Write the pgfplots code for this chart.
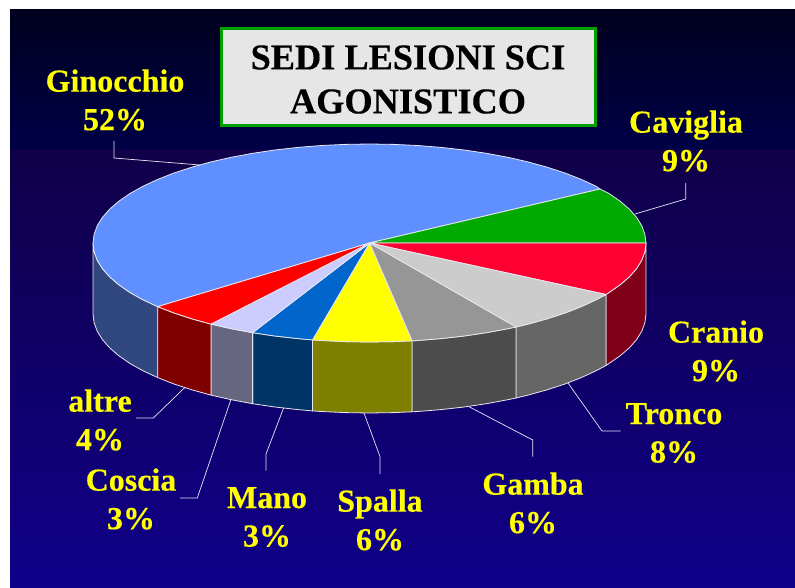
\documentclass[border=0pt]{standalone}
\usepackage{pgfplots}
\pgfplotsset{compat=1.18}
\usepackage{fontspec}
\setmainfont{Liberation Serif}
\newfontface\heavy[FakeBold=0.35]{Liberation Serif Bold}
\definecolor{cGin}{HTML}{6090FF}
\definecolor{cCav}{HTML}{00AA00}
\definecolor{cCra}{HTML}{FF0033}
\definecolor{cTro}{HTML}{CCCCCC}
\definecolor{cGam}{HTML}{969696}
\definecolor{cSpa}{HTML}{FFFF00}
\definecolor{cMan}{HTML}{0066CC}
\definecolor{cCos}{HTML}{CCCCFF}
\definecolor{cAlt}{HTML}{FF0000}
\definecolor{wGin}{HTML}{30487F}
\definecolor{wCra}{HTML}{80001A}
\definecolor{wTro}{HTML}{666666}
\definecolor{wGam}{HTML}{4C4C4C}
\definecolor{wSpa}{HTML}{808000}
\definecolor{wMan}{HTML}{003366}
\definecolor{wCos}{HTML}{666680}
\definecolor{wAlt}{HTML}{800000}
\definecolor{edge}{HTML}{E8E8F0}
\definecolor{lab}{HTML}{FFFF00}
\definecolor{bgA}{RGB}{0,0,30}
\definecolor{bgB}{RGB}{0,0,72}
\definecolor{bgC}{RGB}{16,0,72}
\definecolor{bgD}{RGB}{16,0,138}
\definecolor{boxg}{RGB}{0,160,0}
\definecolor{boxf}{RGB}{230,230,230}
\tikzset{
  slice/.style={draw=edge, line width=0.8pt, line join=round, fill=#1},
  leader/.style={draw=edge, line width=0.7pt},
  lbl/.style={text=lab, align=center, inner sep=0pt,
     font=\fontsize{32}{38.5}\selectfont\heavy},
}
\begin{document}
\begin{tikzpicture}
\begin{axis}[
  scale only axis, width=795pt, height=588pt,
  xmin=0, xmax=795, ymin=0, ymax=588, y dir=reverse,
  axis lines=none, clip=false, no markers,
  every axis plot/.append style={forget plot},
]
% page and backdrop
\fill[white] (axis cs:0,0) rectangle (axis cs:795,588);
\path[top color=bgA, bottom color=bgB] (axis cs:10,10) rectangle (axis cs:795,150);
\path[top color=bgC, bottom color=bgD] (axis cs:10,150) rectangle (axis cs:795,588);

% walls
\addplot[slice=wGin] coordinates {(157.7,306.6)(143,299.8)(130,292.5)(118.9,284.8)(109.7,276.9)(102.4,268.6)(97.2,260.2)(94.1,251.6)(93,243)(93,314)(94.1,322.6)(97.2,331.2)(102.4,339.6)(109.7,347.9)(118.9,355.8)(130,363.5)(143,370.8)(157.7,377.6)} -- cycle;
\addplot[slice=wCra] coordinates {(646,243)(644.9,251.6)(641.8,260.2)(636.6,268.6)(629.3,276.9)(620.1,284.8)(609,292.5)(606,294.5)(606,365.5)(609,363.5)(620.1,355.8)(629.3,347.9)(636.6,339.6)(641.8,331.2)(644.9,322.6)(646,314)} -- cycle;
\addplot[slice=wTro] coordinates {(606,294.5)(596,299.8)(581.3,306.6)(565,313)(547.2,318.8)(528.1,324.1)(516,327)(516,398)(528.1,395.1)(547.2,389.8)(565,384)(581.3,377.6)(596,370.8)(606,365.5)} -- cycle;
\addplot[slice=wGam] coordinates {(516,327)(507.8,328.7)(486.4,332.7)(464.1,336)(441.1,338.6)(417.5,340.5)(412,340.8)(412,411.8)(417.5,411.5)(441.1,409.6)(464.1,407)(486.4,403.7)(507.8,399.7)(516,398)} -- cycle;
\addplot[slice=wSpa] coordinates {(412,340.8)(393.6,341.6)(369.5,342)(345.4,341.6)(321.5,340.5)(312.5,339.9)(312.5,410.9)(321.5,411.5)(345.4,412.6)(369.5,413)(393.6,412.6)(412,411.8)} -- cycle;
\addplot[slice=wMan] coordinates {(312.5,339.9)(297.9,338.6)(274.9,336)(252.6,332.7)(252.6,403.7)(274.9,407)(297.9,409.6)(312.5,410.9)} -- cycle;
\addplot[slice=wCos] coordinates {(252.6,332.7)(231.2,328.7)(210.9,324.1)(210.9,395.1)(231.2,399.7)(252.6,403.7)} -- cycle;
\addplot[slice=wAlt] coordinates {(210.9,324.1)(191.8,318.8)(174,313)(157.7,306.6)(157.7,377.6)(174,384)(191.8,389.8)(210.9,395.1)} -- cycle;

% top faces
\addplot[slice=cGin] coordinates {(369.5,243)(157.7,306.6)(143,299.8)(130,292.5)(118.9,284.8)(109.7,276.9)(102.4,268.6)(97.2,260.2)(94.1,251.6)(93,243)(94.1,234.4)(97.2,225.8)(102.4,217.4)(109.7,209.1)(118.9,201.2)(130,193.5)(143,186.2)(157.7,179.4)(174,173)(191.8,167.2)(210.9,161.9)(231.2,157.3)(252.6,153.3)(274.9,150)(297.9,147.4)(321.5,145.5)(345.4,144.4)(369.5,144)(393.6,144.4)(417.5,145.5)(441.1,147.4)(464.1,150)(486.4,153.3)(507.8,157.3)(528.1,161.9)(547.2,167.2)(565,173)(581.3,179.4)(596,186.2)(600,189)} -- cycle;
\addplot[slice=cCav] coordinates {(369.5,243)(600,189)(609,193.5)(620.1,201.2)(629.3,209.1)(636.6,217.4)(641.8,225.8)(644.9,234.4)(646,243)} -- cycle;
\addplot[slice=cCra] coordinates {(369.5,243)(646,243)(644.9,251.6)(641.8,260.2)(636.6,268.6)(629.3,276.9)(620.1,284.8)(609,292.5)(606,294.5)} -- cycle;
\addplot[slice=cTro] coordinates {(369.5,243)(606,294.5)(596,299.8)(581.3,306.6)(565,313)(547.2,318.8)(528.1,324.1)(516,327)} -- cycle;
\addplot[slice=cGam] coordinates {(369.5,243)(516,327)(507.8,328.7)(486.4,332.7)(464.1,336)(441.1,338.6)(417.5,340.5)(412,340.8)} -- cycle;
\addplot[slice=cSpa] coordinates {(369.5,243)(412,340.8)(393.6,341.6)(369.5,342)(345.4,341.6)(321.5,340.5)(312.5,339.9)} -- cycle;
\addplot[slice=cMan] coordinates {(369.5,243)(312.5,339.9)(297.9,338.6)(274.9,336)(252.6,332.7)} -- cycle;
\addplot[slice=cCos] coordinates {(369.5,243)(252.6,332.7)(231.2,328.7)(210.9,324.1)} -- cycle;
\addplot[slice=cAlt] coordinates {(369.5,243)(210.9,324.1)(191.8,318.8)(174,313)(157.7,306.6)} -- cycle;

% leader lines
\addplot[leader] coordinates {(114,141)(114,158)(200,165)};
\addplot[leader] coordinates {(685.7,183)(685.7,199)(635,214)};
\addplot[leader] coordinates {(620.7,431)(602,431)(568,383)};
\addplot[leader] coordinates {(532.7,456.7)(532.7,440)(469,406.7)};
\addplot[leader] coordinates {(380,474)(380,456.7)(364,413)};
\addplot[leader] coordinates {(266,470.7)(266,454)(283.7,407.7)};
\addplot[leader] coordinates {(180,498)(197.3,498)(231,399.3)};
\addplot[leader] coordinates {(136,418)(153.3,418)(185,387.3)};

% title box
\draw[draw=boxg, line width=3pt, fill=boxf] (axis cs:221,29) rectangle (axis cs:595,126);
\node[align=center, inner sep=0pt, text=black, font=\fontsize{36.3}{44}\selectfont\heavy]
  at (axis cs:408,79.5) {SEDI LESIONI SCI\\AGONISTICO};

% labels
\node[lbl] at (axis cs:115,100) {Ginocchio\\52\%};
\node[lbl] at (axis cs:686,141) {Caviglia\\9\%};
\node[lbl] at (axis cs:716,351) {Cranio\\9\%};
\node[lbl] at (axis cs:674,433) {Tronco\\8\%};
\node[lbl] at (axis cs:533,503) {Gamba\\6\%};
\node[lbl] at (axis cs:380,520) {Spalla\\6\%};
\node[lbl] at (axis cs:267,517) {Mano\\3\%};
\node[lbl] at (axis cs:131,499) {Coscia\\3\%};
\node[lbl] at (axis cs:100,420) {altre\\4\%};
\end{axis}
\end{tikzpicture}
\end{document}
